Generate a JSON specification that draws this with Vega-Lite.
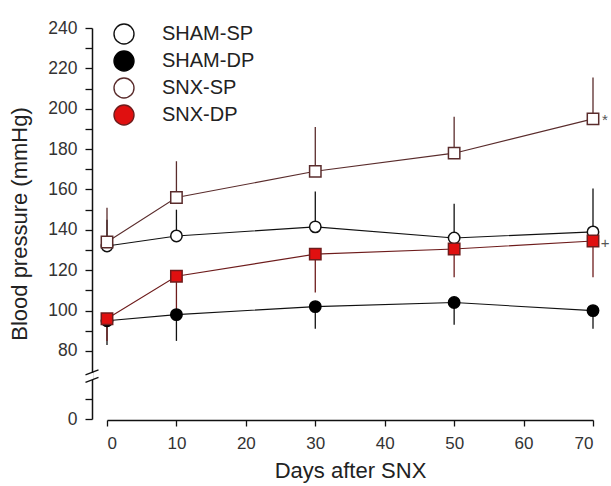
{
  "$schema": "https://vega.github.io/schema/vega-lite/v6.json",
  "width": 486,
  "height": 391,
  "autosize": {"type": "none"},
  "padding": {"left": 107, "top": 28, "right": 18, "bottom": 67},
  "background": "white",
  "config": {
    "view": {"stroke": null},
    "font": "Liberation Sans",
    "axis": {
      "grid": false,
      "domainColor": "#111",
      "domainWidth": 1.5,
      "tickColor": "#111",
      "tickWidth": 1.3,
      "labelColor": "#333",
      "titleColor": "#222",
      "labelFont": "Liberation Sans",
      "titleFont": "Liberation Sans",
      "titleFontWeight": "normal"
    }
  },
  "datasets": {
    "bp": [
      {"series": "SHAM-SP", "grp": "SHAM-SP", "day": 0, "bp": 132, "end": 145},
      {"series": "SHAM-SP", "grp": "SHAM-SP", "day": 10, "bp": 137, "end": 150},
      {"series": "SHAM-SP", "grp": "SHAM-SP", "day": 30, "bp": 141.5, "end": 159},
      {"series": "SHAM-SP", "grp": "SHAM-SP", "day": 50, "bp": 136, "end": 153},
      {"series": "SHAM-SP", "grp": "SHAM-SP", "day": 70, "bp": 139, "end": 160.5},
      {"series": "SHAM-DP", "grp": "SHAM-DP", "day": 0, "bp": 95, "end": 83},
      {"series": "SHAM-DP", "grp": "SHAM-DP", "day": 10, "bp": 98, "end": 85},
      {"series": "SHAM-DP", "grp": "SHAM-DP", "day": 30, "bp": 102, "end": 91},
      {"series": "SHAM-DP", "grp": "SHAM-DP", "day": 50, "bp": 104, "end": 93},
      {"series": "SHAM-DP", "grp": "SHAM-DP", "day": 70, "bp": 100, "end": 91},
      {"series": "SNX-SP", "grp": "SNX-SP", "day": 0, "bp": 134, "end": 151},
      {"series": "SNX-SP", "grp": "SNX-SP", "day": 10, "bp": 156, "end": 174},
      {"series": "SNX-SP", "grp": "SNX-SP", "day": 30, "bp": 169, "end": 191},
      {"series": "SNX-SP", "grp": "SNX-SP", "day": 50, "bp": 178, "end": 196},
      {"series": "SNX-SP", "grp": "SNX-SP", "day": 70, "bp": 195, "end": 215.5},
      {"series": "SNX-DP", "grp": "SNX-DP", "day": 0, "bp": 96, "end": 85},
      {"series": "SNX-DP", "grp": "SNX-DP", "day": 10, "bp": 117, "end": 98},
      {"series": "SNX-DP", "grp": "SNX-DP", "day": 30, "bp": 128, "end": 109},
      {"series": "SNX-DP", "grp": "SNX-DP", "day": 50, "bp": 130.5, "end": 116.5},
      {"series": "SNX-DP", "grp": "SNX-DP", "day": 70, "bp": 134.5, "end": 116.5}
    ],
    "notes": [
      {"day": 70, "bp": 195, "note": "*"},
      {"day": 70, "bp": 134, "note": "+"}
    ],
    "brk": [{"day": 0, "bp": 50}]
  },
  "encoding": {
    "x": {
      "field": "day",
      "type": "quantitative",
      "scale": {"domain": [0, 70], "nice": false, "zero": false},
      "axis": {
        "values": [0, 10, 20, 30, 40, 50, 60, 70],
        "tickSize": 6,
        "offset": 1,
        "labelFontSize": 17,
        "labelPadding": 9,
        "title": "Days after SNX",
        "titleFontSize": 22,
        "titlePadding": 9
      }
    },
    "y": {
      "field": "bp",
      "type": "quantitative",
      "scale": {"domain": [0, 17, 69, 240], "range": [391, 356.7, 345.2, 0], "nice": false, "zero": false},
      "axis": {
        "values": [0, 10, 80, 90, 100, 110, 120, 130, 140, 150, 160, 170, 180, 190, 200, 210, 220, 230, 240],
        "labelExpr": "datum.value % 20 === 0 ? datum.label : ''",
        "tickSize": 7,
        "offset": 15,
        "labelFontSize": 17.5,
        "labelPadding": 8,
        "title": "Blood pressure (mmHg)",
        "titleFontSize": 22,
        "titlePadding": 16,
        "encode": {
          "ticks": {"x2": {"value": {"expr": "datum.value % 20 === 0 ? -7 : -4"}}}
        }
      }
    }
  },
  "layer": [
    {
      "data": {"name": "bp"},
      "mark": {"type": "rule", "strokeWidth": 1.3},
      "encoding": {
        "y2": {"field": "end"},
        "color": {
          "field": "grp", "type": "nominal", "legend": null, "sort": "ascending",
          "scale": {"range": ["#111111", "#111111", "#6e1c1c", "#5a2c2c"]}
        }
      }
    },
    {
      "data": {"name": "bp"},
      "mark": {"type": "line", "strokeWidth": 1.1},
      "encoding": {
        "color": {"field": "grp", "type": "nominal", "legend": null, "sort": "ascending"}
      }
    },
    {
      "data": {"name": "bp"},
      "mark": {"type": "point", "filled": true, "size": 130, "strokeWidth": 1.5, "opacity": 1},
      "encoding": {
        "shape": {
          "field": "grp",
          "type": "nominal",
          "sort": "ascending",
          "legend": null,
          "scale": {"range": ["circle", "circle", "square", "square"]}
        },
        "fill": {
          "field": "series",
          "type": "nominal",
          "scale": {"domain": ["SHAM-SP", "SHAM-DP", "SNX-SP", "SNX-DP"], "range": ["#ffffff", "#000000", "#ffffff", "#e01010"]},
          "legend": {
            "orient": "none", "legendX": 6, "legendY": -5, "title": null,
            "symbolSize": 400, "labelFontSize": 20, "labelOffset": 27, "rowPadding": 1, "padding": 0,
            "symbolStrokeWidth": 1.4, "labelColor": "#222",
            "encode": {"symbols": {"shape": {"value": {"expr": "indexof(datum.value, 'SHAM') === 0 ? 'M-1.14,0H0.76M1.76,0H3.76M0.76,0A0.5,0.5 0 1,1 1.76,0A0.5,0.5 0 1,1 0.76,0Z' : 'M-1.14,0H0.71M1.81,0H3.76M0.71,-0.55H1.81V0.55H0.71Z'"}}}}
          }
        },
        "stroke": {
          "field": "series",
          "type": "nominal",
          "scale": {"domain": ["SHAM-SP", "SHAM-DP", "SNX-SP", "SNX-DP"], "range": ["#111111", "#000000", "#5a2c2c", "#6e1c1c"]},
          "legend": {
            "orient": "none", "legendX": 6, "legendY": -5, "title": null,
            "symbolSize": 400, "labelFontSize": 20, "labelOffset": 27, "rowPadding": 1, "padding": 0,
            "symbolStrokeWidth": 1.4, "labelColor": "#222",
            "encode": {"symbols": {"shape": {"value": {"expr": "indexof(datum.value, 'SHAM') === 0 ? 'M-1.14,0H0.76M1.76,0H3.76M0.76,0A0.5,0.5 0 1,1 1.76,0A0.5,0.5 0 1,1 0.76,0Z' : 'M-1.14,0H0.71M1.81,0H3.76M0.71,-0.55H1.81V0.55H0.71Z'"}}}}
          }
        }
      }
    },
    {
      "data": {"name": "notes"},
      "mark": {"type": "text", "dx": 12, "dy": 1, "fontSize": 15, "color": "#555", "align": "center"},
      "encoding": {"text": {"field": "note"}}
    },
    {
      "data": {"name": "brk"},
      "mark": {"type": "rule", "color": "white", "strokeWidth": 3, "xOffset": -15, "yOffset": -4.5, "y2Offset": 2.5},
      "encoding": {"y2": {"field": "bp"}}
    },
    {
      "data": {"name": "brk"},
      "mark": {"type": "rule", "color": "#111", "strokeWidth": 1.3, "xOffset": -21.5, "x2Offset": -8.5, "yOffset": -2.5, "y2Offset": -7.5},
      "encoding": {"x2": {"field": "day"}, "y2": {"field": "bp"}}
    },
    {
      "data": {"name": "brk"},
      "mark": {"type": "rule", "color": "#111", "strokeWidth": 1.3, "xOffset": -21.5, "x2Offset": -8.5, "yOffset": 5, "y2Offset": 0},
      "encoding": {"x2": {"field": "day"}, "y2": {"field": "bp"}}
    }
  ]
}
